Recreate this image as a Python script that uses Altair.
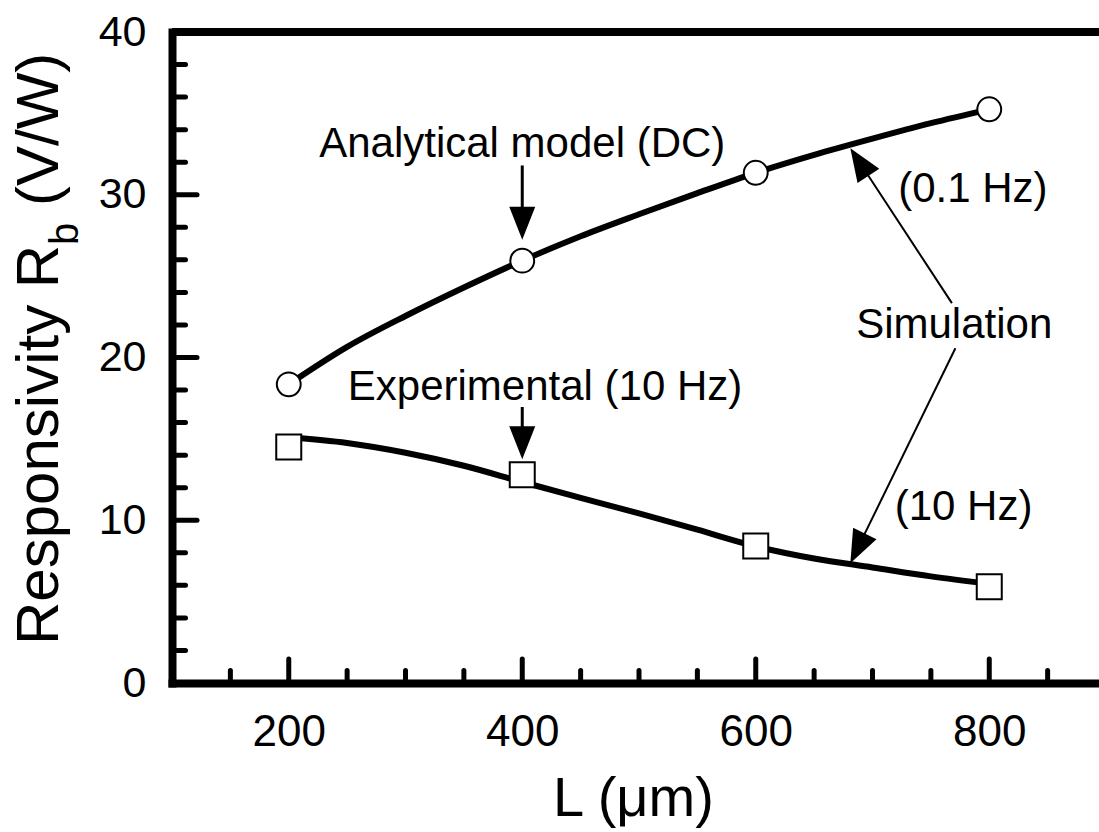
import math
import altair as alt
import pandas as pd

# Responsivity of the bolometer bridge versus its length L (um)
L_UM = [200, 400, 600, 800]
ANALYTICAL_DC = [18.35, 25.95, 31.35, 35.25]
EXPERIMENTAL_10HZ = [14.5, 12.8, 8.42, 5.92]

# Simulated responsivity curves
SIM_L_UM = [200, 250, 300, 350, 400, 450, 500, 550, 600, 650, 700, 750, 800]
SIM_0P1HZ = [18.35, 20.65, 22.55, 24.3, 25.95, 27.45, 28.8, 30.1, 31.35, 32.45, 33.45, 34.4, 35.25]
SIM_10HZ = [15.1, 14.75, 14.15, 13.35, 12.35, 11.38, 10.42, 9.42, 8.4, 7.65, 7.1, 6.55, 6.1]

# Axis ranges and ticks
X_DOMAIN = [100, 894]
Y_DOMAIN = [0, 40]
X_LABELS = [200, 400, 600, 800]
X_MINOR = [150, 250, 300, 350, 450, 500, 550, 650, 700, 750, 850]
Y_LABELS = [0, 10, 20, 30, 40]
Y_MAJOR = [10, 20, 30]
Y_MINOR = [2, 4, 6, 8, 12, 14, 16, 18, 22, 24, 26, 28, 32, 34, 36, 38]

# Annotation texts (anchored at their centre, on the text baseline)
NOTE_TEXT = ["Analytical model (DC)", "Experimental (10 Hz)", "(0.1 Hz)", "Simulation", "(10 Hz)"]
NOTE_X = [400, 419.5, 786, 770, 778]
NOTE_Y = [32.35, 17.39, 29.58, 21.19, 10.02]

# Annotation arrows: tail -> tip
ARROW_TAIL_X = [400, 400, 768, 771]
ARROW_TAIL_Y = [31.8, 16.96, 23.34, 20.57]
ARROW_TIP_X = [400, 400, 681, 681]
ARROW_TIP_Y = [27.23, 13.75, 32.86, 7.36]
ARROW_SHAFT = [3, 3, 2, 2]

W, H = 927, 651
FONT = "Liberation Sans"
BLACK = "#000000"
HEAD_LEN = 33.0
HEAD_HALF = 13.0

sx = W / (X_DOMAIN[1] - X_DOMAIN[0])
sy = H / (Y_DOMAIN[1] - Y_DOMAIN[0])

xscale = alt.Scale(domain=X_DOMAIN, nice=False, zero=False)
yscale = alt.Scale(domain=Y_DOMAIN, nice=False, zero=False)

x_axis = alt.Axis(
    values=X_LABELS, ticks=False, tickSize=0, grid=False,
    domainColor=BLACK, domainWidth=8, domainCap="square",
    labelFont=FONT, labelFontSize=44, labelColor=BLACK,
    labelBaseline="alphabetic", labelPadding=62, labelFlush=False,
    title="L (\u03bcm)", titleFont=FONT, titleFontSize=56, titleFontWeight="normal",
    titleColor=BLACK, titleBaseline="alphabetic", titleAlign="center",
    titleX=461, titleY=132,
)
y_axis = alt.Axis(
    values=Y_LABELS, ticks=False, tickSize=0, grid=False,
    domainColor=BLACK, domainWidth=8, domainCap="square",
    labelFont=FONT, labelFontSize=43, labelColor=BLACK,
    labelBaseline="middle", labelPadding=26, labelFlush=False,
    title=None,
)


def xenc(field):
    return alt.X(f"{field}:Q", scale=xscale, axis=x_axis)


def yenc(field):
    return alt.Y(f"{field}:Q", scale=yscale, axis=y_axis)


sim = pd.DataFrame({
    "L": SIM_L_UM * 2,
    "R": SIM_0P1HZ + SIM_10HZ,
    "series": ["0.1 Hz"] * len(SIM_L_UM) + ["10 Hz"] * len(SIM_L_UM),
})
curves = alt.Chart(sim).mark_line(
    interpolate="monotone", color=BLACK, strokeWidth=6
).encode(x=xenc("L"), y=yenc("R"), detail="series:N")

circles = alt.Chart(pd.DataFrame({"L": L_UM, "R": ANALYTICAL_DC})).mark_point(
    shape="circle", filled=True, fill="white", stroke=BLACK, strokeWidth=2,
    size=570, opacity=1
).encode(x=xenc("L"), y=yenc("R"))

squares = alt.Chart(pd.DataFrame({"L": L_UM, "R": EXPERIMENTAL_10HZ})).mark_point(
    shape="square", filled=True, fill="white", stroke=BLACK, strokeWidth=2,
    size=625, opacity=1
).encode(x=xenc("L"), y=yenc("R"))

# Frame line along the top of the plot
top_frame = alt.Chart(pd.DataFrame({"y": [Y_DOMAIN[1]]})).mark_rule(
    color=BLACK, strokeWidth=8
).encode(y=yenc("y"))

# Inward-pointing ticks
tick_style = dict(color=BLACK, strokeWidth=5, strokeCap="round")
y_major = alt.Chart(pd.DataFrame({"v": Y_MAJOR})).mark_rule(**tick_style).encode(
    y=yenc("v"), x=alt.value(0), x2=alt.value(25))
y_minor = alt.Chart(pd.DataFrame({"v": Y_MINOR})).mark_rule(**tick_style).encode(
    y=yenc("v"), x=alt.value(0), x2=alt.value(13.5))
x_major = alt.Chart(pd.DataFrame({"v": X_LABELS})).mark_rule(**tick_style).encode(
    x=xenc("v"), y=alt.value(H), y2=alt.value(H - 24))
x_minor = alt.Chart(pd.DataFrame({"v": X_MINOR})).mark_rule(**tick_style).encode(
    x=xenc("v"), y=alt.value(H), y2=alt.value(H - 12.5))

# Arrows: shaft stops short of the tip, filled head rotated along the shaft
rows = []
for tx, ty, px, py, w in zip(ARROW_TAIL_X, ARROW_TAIL_Y, ARROW_TIP_X, ARROW_TIP_Y, ARROW_SHAFT):
    dx = (px - tx) * sx
    dy = -(py - ty) * sy
    length = math.hypot(dx, dy)
    k = (length - HEAD_LEN * 0.6) / length
    angle = math.degrees(math.atan2(dx, -dy)) % 360
    rows.append({
        "x0": tx, "y0": ty,
        "x1": tx + (px - tx) * k, "y1": ty + (py - ty) * k,
        "tipx": px, "tipy": py, "angle": angle, "w": w,
    })
arrows = pd.DataFrame(rows)

shafts = alt.Chart(arrows).mark_rule(color=BLACK).encode(
    x=xenc("x0"), y=yenc("y0"), x2="x1:Q", y2="y1:Q",
    strokeWidth=alt.StrokeWidth("w:Q", scale=None, legend=None),
)
hh = HEAD_HALF / HEAD_LEN
heads = alt.Chart(arrows).mark_point(
    shape=f"M0,0L{-hh:.3f},1L{hh:.3f},1Z", filled=True, fill=BLACK,
    strokeWidth=0, opacity=1, size=(2 * HEAD_LEN) ** 2
).encode(x=xenc("tipx"), y=yenc("tipy"), angle=alt.Angle("angle:Q", scale=None))

notes = alt.Chart(pd.DataFrame({"x": NOTE_X, "y": NOTE_Y, "t": NOTE_TEXT})).mark_text(
    font=FONT, fontSize=42, color=BLACK, align="center", baseline="alphabetic"
).encode(x=xenc("x"), y=yenc("y"), text="t:N")

# Rotated y-axis title with a subscript
title_main = alt.Chart(pd.DataFrame({"t": ["Responsivity R"]})).mark_text(
    font=FONT, fontSize=60, color=BLACK, angle=270, align="left", baseline="alphabetic"
).encode(text="t:N", x=alt.value(-114), y=alt.value(613))
title_sub = alt.Chart(pd.DataFrame({"t": ["b"]})).mark_text(
    font=FONT, fontSize=40, color=BLACK, angle=270, align="left", baseline="alphabetic"
).encode(text="t:N", x=alt.value(-94), y=alt.value(213))
title_unit = alt.Chart(pd.DataFrame({"t": ["(V/W)"]})).mark_text(
    font=FONT, fontSize=60, color=BLACK, angle=270, align="left", baseline="alphabetic"
).encode(text="t:N", x=alt.value(-114), y=alt.value(174))

chart = alt.layer(
    curves, top_frame, y_major, y_minor, x_major, x_minor,
    shafts, heads, circles, squares, notes,
    title_main, title_sub, title_unit,
).properties(
    width=W, height=H,
    autosize=alt.AutoSizeParams(type="none"),
    padding={"left": 172, "top": 32, "right": 0, "bottom": 149},
    background="white",
).configure_view(stroke=None)

chart.save("out.html", embed_options={"renderer": "svg", "actions": False})
